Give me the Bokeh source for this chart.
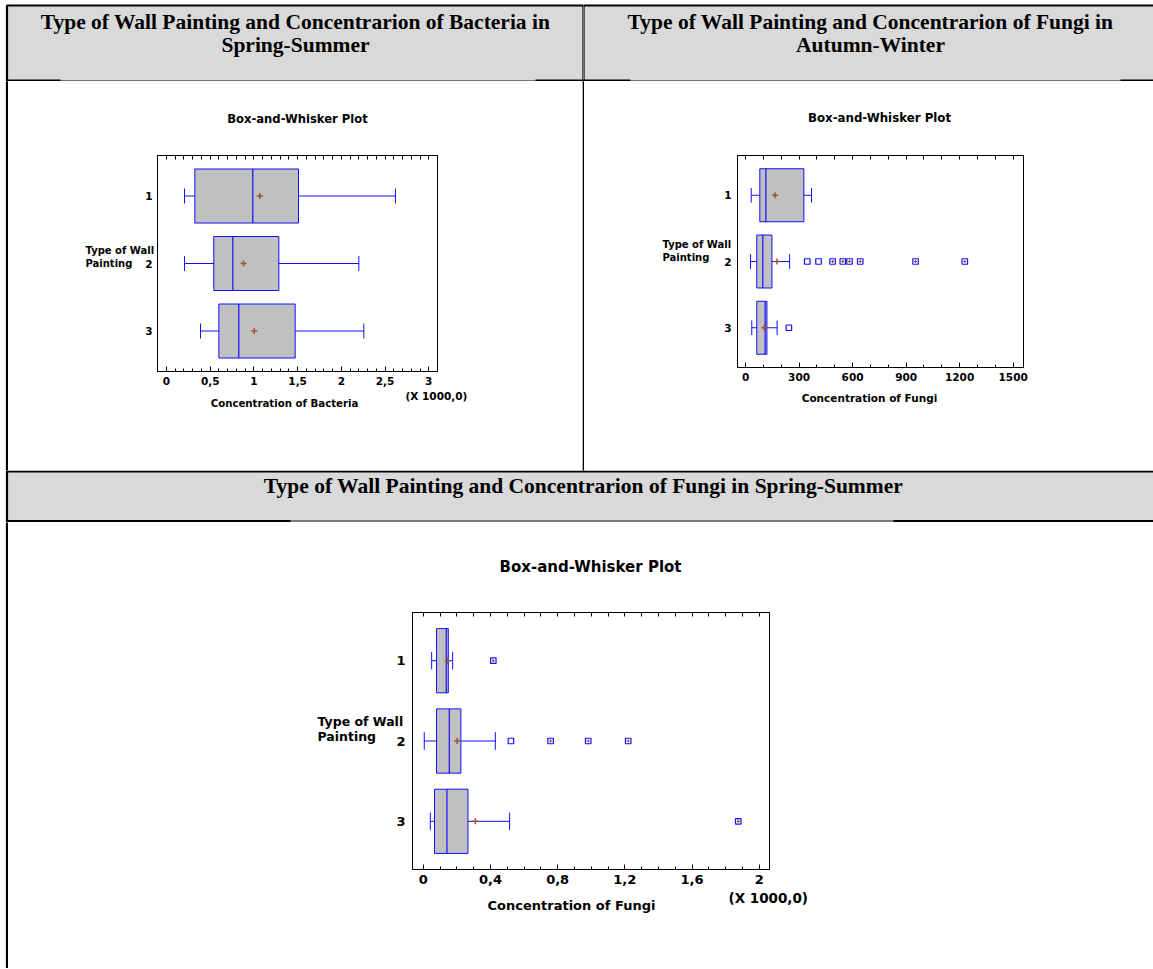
from bokeh.plotting import figure
from bokeh.models import Range1d, FixedTicker, LinearAxis
from bokeh.layouts import column, row
from bokeh.core.properties import value
from bokeh.embed import file_html
from bokeh.resources import INLINE

# ---------------- data ----------------
categories = [1, 2, 3]
category_labels = ["1", "2", "3"]

# Bacteria, Spring-Summer
bact_ss_low = [206, 206, 389]
bact_ss_q1 = [324, 541, 599]
bact_ss_median = [987, 759, 827]
bact_ss_q3 = [1510, 1285, 1472]
bact_ss_high = [2619, 2200, 2257]
bact_ss_mean = [1067, 881, 1003]
bact_ss_out_cat = []
bact_ss_out_val = []
bact_ss_out_far = []
bact_ticks = [0, 500, 1000, 1500, 2000, 2500, 3000]
bact_tick_labels = ["0", "0,5", "1", "1,5", "2", "2,5", "3"]

# Fungi, Autumn-Winter
fungi_aw_low = [32, 28, 35]
fungi_aw_q1 = [80, 63, 63]
fungi_aw_median = [114, 97, 110]
fungi_aw_q3 = [327, 148, 120]
fungi_aw_high = [370, 247, 177]
fungi_aw_mean = [166, 176, 105]
fungi_aw_out_cat = [2, 2, 2, 2, 2, 2, 2, 2, 3]
fungi_aw_out_val = [346, 409, 488, 545, 583, 643, 953, 1229, 243]
fungi_aw_out_far = [0, 0, 1, 1, 1, 1, 1, 1, 0]
fungi_aw_ticks = [0, 300, 600, 900, 1200, 1500]
fungi_aw_tick_labels = ["0", "300", "600", "900", "1200", "1500"]

# Fungi, Spring-Summer
fungi_ss_low = [50, 6, 42]
fungi_ss_q1 = [79, 79, 67]
fungi_ss_median = [137, 155, 141]
fungi_ss_q3 = [149, 224, 266]
fungi_ss_high = [175, 429, 514]
fungi_ss_mean = [145, 202, 310]
fungi_ss_out_cat = [1, 2, 2, 2, 2, 3]
fungi_ss_out_val = [417, 522, 758, 982, 1220, 1875]
fungi_ss_out_far = [1, 0, 1, 1, 1, 1]
fungi_ss_ticks = [0, 400, 800, 1200, 1600, 2000]
fungi_ss_tick_labels = ["0", "0,4", "0,8", "1,2", "1,6", "2"]

header_texts = [
    "Type of Wall Painting and Concentrarion of Bacteria in",
    "Spring-Summer",
    "Type of Wall Painting and Concentrarion of Fungi in",
    "Autumn-Winter",
    "Type of Wall Painting and Concentrarion of Fungi in Spring-Summer",
]
plot_title = "Box-and-Whisker Plot"
y_title_lines = ["Type of Wall", "Painting"]
scale_note = "(X 1000,0)"

# ---------------- style constants ----------------
SANS = "DejaVu Sans"
SERIF = "Liberation Serif"
BLUE = "#1010ff"
BROWN = "#a0522d"
GREY = "#c0c0c0"
HEAD_GREY = "#d9d9d9"


def base_fig(w, h, xr, yr, **kw):
    opts = dict(width=w, height=h, x_range=xr, y_range=yr, x_axis_type=None, y_axis_type=None,
                toolbar_location=None, output_backend="svg", outline_line_color=None,
                background_fill_color="white", border_fill_color="white",
                min_border_left=0, min_border_right=0, min_border_top=0, min_border_bottom=0)
    opts.update(kw)
    return figure(**opts)


def table_piece(x0, x1, y0, y1, texts=()):
    """A piece of the surrounding table, drawn in page pixel coordinates."""
    t = base_fig(x1 - x0, y1 - y0, Range1d(x0, x1), Range1d(y1, y0))
    t.quad(left=[6, 6], right=[1153, 1153], top=[5, 471], bottom=[80, 520],
           fill_color=HEAD_GREY, line_color=None)
    t.segment(x0=[6, 6], y0=[80.5, 520.5], x1=[1153, 1153], y1=[80.5, 520.5],
              line_color="black", line_width=1)
    t.segment(x0=[6.5, 6, 583, 6, 6, 535, 1120, 6, 893],
              y0=[5, 5, 5, 471, 80, 80, 80, 520.5, 520.5],
              x1=[6.5, 1153, 583, 1153, 60, 630, 1153, 290, 1153],
              y1=[969, 5, 471, 471, 80, 80, 80, 520.5, 520.5],
              line_color="black", line_width=2.2)
    if texts:
        t.text(x=[a[1] for a in texts], y=[a[2] for a in texts], text=[a[0] for a in texts],
               text_font=value(SERIF), text_font_style="bold", text_font_size="21.5px",
               text_align="center", text_baseline="middle", text_color="black")
    return t


def text_piece(x0, x1, y0, y1, texts):
    t = base_fig(x1 - x0, y1 - y0, Range1d(x0, x1), Range1d(y1, y0))
    for txt, px, py, fs, align in texts:
        t.text(x=[px], y=[py], text=[txt], text_font=value(SANS), text_font_style="bold",
               text_font_size=fs, text_align=align, text_baseline="middle", text_color="black")
    return t


def plot_cell(cell, frame, borders, xr, ticks, tick_labels, minor_step, fs_tick,
              lab_x, yt_x, yt_y, yt_fs, top_texts, bottom_texts,
              low, q1, med, q3, high, mean, out_cat, out_val, out_far):
    cx0, cx1, cy0, cy1 = cell
    fx0, fx1, fy0, fy1 = frame
    bl, br, bt, bb = borders
    px0, px1, py0, py1 = fx0 - bl, fx1 + br, fy0 - bt, fy1 + bb
    y_start, y_end = 3.6, 0.4
    yr = Range1d(y_start, y_end)

    p = figure(width=px1 - px0, height=py1 - py0, x_range=Range1d(*xr), y_range=yr,
               toolbar_location=None, output_backend="svg",
               min_border_left=bl, min_border_right=br, min_border_top=bt, min_border_bottom=bb,
               border_fill_color="white", background_fill_color="white",
               outline_line_color="black", outline_line_width=1)
    p.grid.grid_line_color = None
    minor = list(range(0, int(xr[1]) + 1, minor_step))

    xa = p.xaxis[0]
    xa.ticker = FixedTicker(ticks=ticks, minor_ticks=minor)
    xa.major_label_overrides = {t: l for t, l in zip(ticks, tick_labels)}
    xa.major_tick_in = 5
    xa.major_tick_out = 0
    xa.minor_tick_in = 3
    xa.minor_tick_out = 0
    xa.major_label_standoff = 5
    xa.axis_line_color = "black"
    xa.major_label_text_font = SANS
    xa.major_label_text_font_style = "bold"
    xa.major_label_text_font_size = fs_tick
    xa.major_label_text_color = "black"

    top = LinearAxis(ticker=FixedTicker(ticks=[], minor_ticks=minor),
                     minor_tick_in=4, minor_tick_out=0, major_label_standoff=0,
                     axis_line_color="black")
    p.add_layout(top, "above")

    ya = p.yaxis[0]
    ya.ticker = FixedTicker(ticks=[])
    ya.major_tick_line_color = None
    ya.minor_tick_line_color = None
    ya.major_label_standoff = 0
    ya.axis_line_color = "black"

    cats = categories
    p.hbar(y=cats, left=q1, right=q3, height=0.8, fill_color=GREY,
           line_color=BLUE, line_width=1)
    p.segment(x0=med, y0=[c - 0.4 for c in cats], x1=med, y1=[c + 0.4 for c in cats],
              line_color=BLUE, line_width=1.2)
    p.segment(x0=low, y0=cats, x1=q1, y1=cats, line_color=BLUE, line_width=1)
    p.segment(x0=q3, y0=cats, x1=high, y1=cats, line_color=BLUE, line_width=1)
    p.segment(x0=low, y0=[c - 0.11 for c in cats], x1=low, y1=[c + 0.11 for c in cats],
              line_color=BLUE, line_width=1)
    p.segment(x0=high, y0=[c - 0.11 for c in cats], x1=high, y1=[c + 0.11 for c in cats],
              line_color=BLUE, line_width=1)
    p.scatter(x=mean, y=cats, marker="cross", size=6, line_color=BROWN, line_width=1.5)
    if out_val:
        p.scatter(x=out_val, y=out_cat, marker="square", size=5.5, line_color=BLUE,
                  fill_color="white", line_width=1.2)
        fx = [v for v, f in zip(out_val, out_far) if f]
        fy = [c for c, f in zip(out_cat, out_far) if f]
        p.scatter(x=fx, y=fy, marker="cross", size=3, line_color=BROWN, line_width=1.2)

    # left margin: category labels and axis title, sharing the plot's y scale
    left = base_fig(px0 - cx0, py1 - py0, Range1d(cx0, px0), yr,
                    min_border_top=bt, min_border_bottom=bb)
    left.text(x=[lab_x] * len(cats), y=cats, text=category_labels,
              text_font=value(SANS), text_font_style="bold", text_font_size=fs_tick,
              text_align="right", text_baseline="middle", text_color="black")

    def y_px_to_data(py):
        return y_start + (fy1 - py) / (fy1 - fy0) * (y_end - y_start)

    left.text(x=[yt_x] * len(y_title_lines), y=[y_px_to_data(v) for v in yt_y],
              text=y_title_lines, text_font=value(SANS), text_font_style="bold",
              text_font_size=yt_fs, text_align="left", text_baseline="middle",
              text_color="black")

    right = base_fig(cx1 - px1, py1 - py0, Range1d(px1, cx1), Range1d(py1, py0))
    top_p = text_piece(cx0, cx1, cy0, py0, top_texts)
    bot_p = text_piece(cx0, cx1, py1, cy1, bottom_texts)
    return column(top_p, row(left, p, right, spacing=0), bot_p, spacing=0)


cellL = plot_cell((8, 582, 81, 470), (157, 437, 155, 371), (3, 3, 3, 18), (-103, 3100),
                  bact_ticks, bact_tick_labels, 100, "10.5px",
                  152, 85, [250, 263], "10px",
                  [(plot_title, 297, 118, "11.6px", "center")],
                  [(scale_note, 405, 395, "10.5px", "left"),
                   ("Concentration of Bacteria", 284, 403, "10.2px", "center")],
                  bact_ss_low, bact_ss_q1, bact_ss_median, bact_ss_q3, bact_ss_high, bact_ss_mean,
                  bact_ss_out_cat, bact_ss_out_val, bact_ss_out_far)

cellR = plot_cell((584, 1153, 81, 470), (737, 1023, 155, 367), (3, 6, 3, 18), (-45, 1558),
                  fungi_aw_ticks, fungi_aw_tick_labels, 100, "10.5px",
                  731, 662, [244, 257], "10px",
                  [(plot_title, 879, 117, "11.8px", "center")],
                  [("Concentration of Fungi", 869, 397, "10.5px", "center")],
                  fungi_aw_low, fungi_aw_q1, fungi_aw_median, fungi_aw_q3, fungi_aw_high, fungi_aw_mean,
                  fungi_aw_out_cat, fungi_aw_out_val, fungi_aw_out_far)

cellB = plot_cell((8, 1153, 522, 968), (412, 769, 612, 869), (3, 3, 3, 21), (-64, 2061),
                  fungi_ss_ticks, fungi_ss_tick_labels, 100, "13px",
                  405, 317, [721, 736], "12.5px",
                  [(plot_title, 590, 566, "15px", "center")],
                  [(scale_note, 728, 897, "13.5px", "left"),
                   ("Concentration of Fungi", 571, 905, "13px", "center")],
                  fungi_ss_low, fungi_ss_q1, fungi_ss_median, fungi_ss_q3, fungi_ss_high, fungi_ss_mean,
                  fungi_ss_out_cat, fungi_ss_out_val, fungi_ss_out_far)

layout = column(
    row(table_piece(0, 583, 0, 81, [(header_texts[0], 295, 21), (header_texts[1], 295, 44)]),
        table_piece(583, 1153, 0, 81, [(header_texts[2], 870, 21), (header_texts[3], 870, 44)]),
        spacing=0),
    row(table_piece(0, 8, 81, 470), cellL, table_piece(582, 584, 81, 470), cellR, spacing=0),
    table_piece(0, 1153, 470, 522, [(header_texts[4], 583, 485)]),
    row(table_piece(0, 8, 522, 968), cellB, spacing=0),
    spacing=0,
)

open("out.html", "w").write(file_html(layout, INLINE))
